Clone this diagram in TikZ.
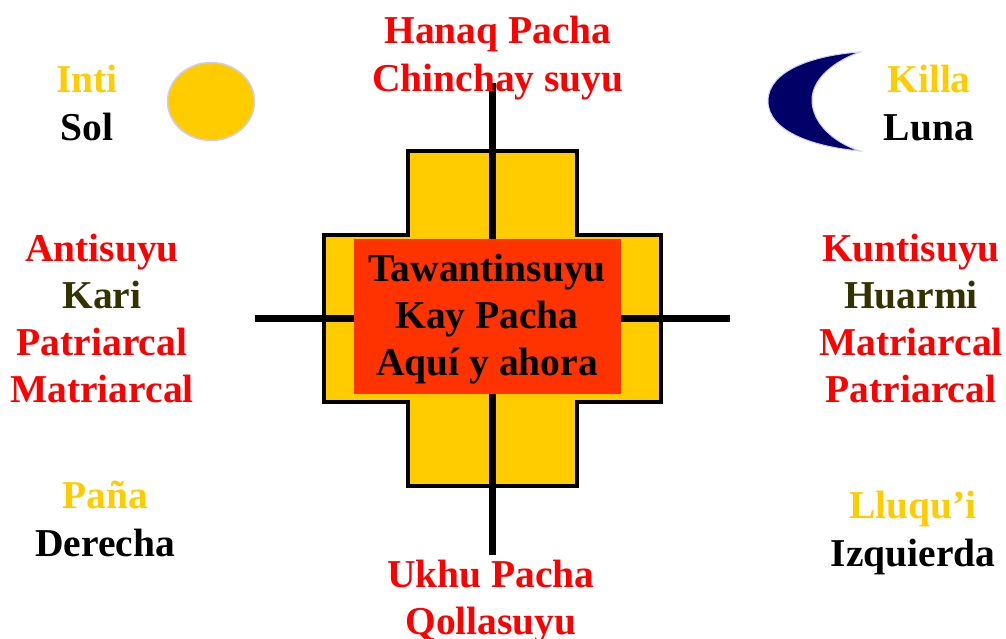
\documentclass[tikz,border=0pt]{standalone}
\usepackage{fontspec}
\setmainfont{Liberation Serif}
\definecolor{oro}{HTML}{FFCC00}
\definecolor{rojo}{HTML}{FF0000}
\definecolor{naranja}{HTML}{FF3300}
\definecolor{oliva}{HTML}{333300}
\definecolor{noche}{HTML}{000066}
\definecolor{borde}{HTML}{CCCCFF}
\tikzset{
  word/.style={anchor=base,inner sep=0pt,font=\fontsize{39.5}{40}\selectfont\bfseries},
  bar/.style={line width=7pt,black}
}
\begin{document}
\begin{tikzpicture}[x=1pt,y=-1pt]
\useasboundingbox (0,0) rectangle (1006,639);
% chakana
\draw[fill=oro,line width=4pt,line join=miter] (408,151) -- (577,151) -- (577,235) -- (661,235) -- (661,402)
  -- (577,402) -- (577,486) -- (408,486) -- (408,402) -- (324,402) -- (324,235) -- (408,235) -- cycle;
\node[fill=naranja,minimum width=267pt,minimum height=155pt,inner sep=0pt] (centro) at (487.5,316.5) {};
\coordinate (norte) at (492.5,83);
\coordinate (sur) at (492.5,555);
\coordinate (oeste) at (255,318);
\coordinate (este) at (730,318);
\draw[bar] (norte) -- (norte |- centro.north);
\draw[bar] (sur) -- (sur |- centro.south);
\draw[bar] (oeste) -- (oeste -| centro.west);
\draw[bar] (este) -- (este -| centro.east);
\node[word] (tawa) at (487,281) {Tawantinsuyu};
\node[word] (kay) at (487,328) {Kay Pacha};
\node[word] (aqui) at (487,375) {Aquí y ahora};
% arriba y abajo
\node[word,rojo] (hanaq) at (498,44) {Hanaq Pacha};
\node[word,rojo] (chinchay) at (498,92) {Chinchay suyu};
\node[word,rojo] (ukhu) at (491,587) {Ukhu Pacha};
\node[word,rojo] (qolla) at (491,634) {Qollasuyu};
% sol
\node[word,oro] (inti) at (87,93) {Inti};
\node[word] (sol) at (87,141) {Sol};
\draw[fill=oro,draw=borde,line width=1.5pt] (211,101.5) ellipse (43.5 and 39);
% luna
\node[word,oro] (killa) at (929,93) {Killa};
\node[word] (lunaw) at (929,141) {Luna};
\draw[fill=noche,draw=borde,line width=1pt] (860,52) .. controls (815,55) and (768,70) .. (768,101)
  .. controls (768,132) and (815,147) .. (860,151) .. controls (832,142) and (812,122) .. (812,100)
  .. controls (812,80) and (832,62) .. (860,52) -- cycle;
% izquierda
\node[word,rojo] (anti) at (102,261) {Antisuyu};
\node[word,oliva] (kari) at (102,308) {Kari};
\node[word,rojo] (patri) at (102,355) {Patriarcal};
\node[word,rojo] (matri) at (102,402) {Matriarcal};
\node[word,oro] (pana) at (105,508) {Paña};
\node[word] (derecha) at (105,556) {Derecha};
% derecha
\node[word,rojo] (kunti) at (911,261) {Kuntisuyu};
\node[word,oliva] (huarmi) at (911,308) {Huarmi};
\node[word,rojo] (matrib) at (911,355) {Matriarcal};
\node[word,rojo] (patrib) at (911,402) {Patriarcal};
\node[word,oro] (lluqui) at (913,518) {Lluqu'i};
\node[word] (izquierda) at (913,566) {Izquierda};
\end{tikzpicture}
\end{document}
